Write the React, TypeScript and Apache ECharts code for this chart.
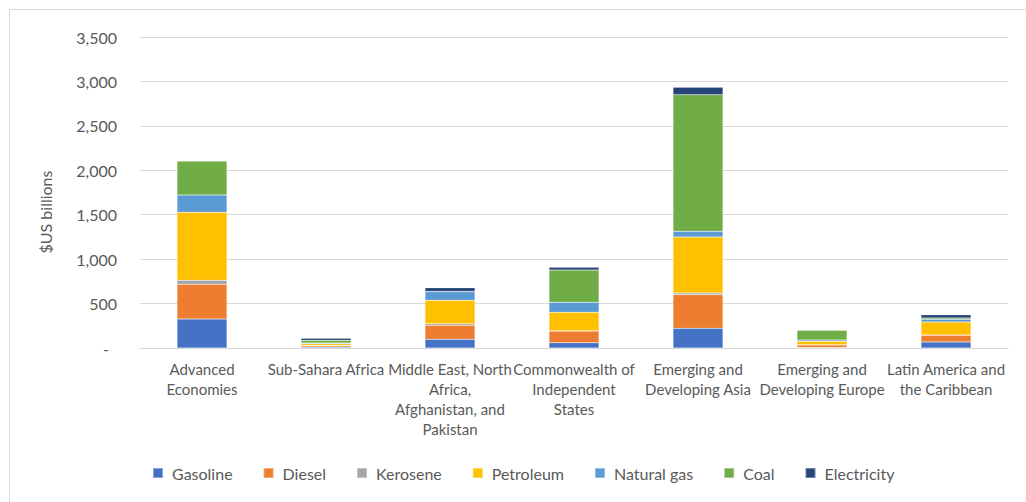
import React, { useEffect, useRef } from "react";
import * as echarts from "echarts";

// Regions on the category axis (line breaks follow the printed wrapping)
const categories = [
  "Advanced\nEconomies",
  "Sub-Sahara Africa",
  "Middle East, North\nAfrica,\nAfghanistan, and\nPakistan",
  "Commonwealth of\nIndependent\nStates",
  "Emerging and\nDeveloping Asia",
  "Emerging and\nDeveloping Europe",
  "Latin America and\nthe Caribbean",
];

// Subsidies by energy product, $US billions
const gasoline = [326, 10, 98, 58, 221, 5, 68];
const diesel = [391, 15, 157, 132, 379, 30, 76];
const kerosene = [45, 3, 19, 5, 19, 2, 3];
const petroleum = [765, 20, 263, 207, 630, 38, 147];
const naturalGas = [195, 7, 97, 112, 64, 15, 30];
const coal = [382, 32, 3, 364, 1538, 109, 15];
const electricity = [3, 22, 41, 30, 83, 3, 34];

const seriesNames = ["Gasoline", "Diesel", "Kerosene", "Petroleum", "Natural gas", "Coal", "Electricity"];
const seriesValues = [gasoline, diesel, kerosene, petroleum, naturalGas, coal, electricity];
const seriesColors = ["#4472C4", "#ED7D31", "#A5A5A5", "#FFC000", "#5B9BD5", "#70AD47", "#264478"];

const yTicks = { min: 0, max: 3500, interval: 500 };
const yTitle = "$US billions";

const FONT = "Lato, 'Noto Sans', sans-serif";
const TEXT = "#595959";
const GRID = "#d9d9d9";

export default function App() {
  const ref = useRef<HTMLDivElement>(null);

  useEffect(() => {
    if (!ref.current) return;
    const chart = echarts.init(ref.current, undefined, { renderer: "svg" });
    chart.setOption({
      animation: false,
      backgroundColor: "#ffffff",
      textStyle: { fontFamily: FONT },
      grid: { left: 140, right: 18, top: 37, bottom: 154, containLabel: false },
      legend: {
        data: seriesNames,
        top: 460,
        left: 147,
        icon: "rect",
        itemWidth: 10,
        itemHeight: 10,
        itemGap: 30,
        textStyle: { fontFamily: FONT, fontSize: 16, color: TEXT, padding: [0, 0, 0, 4] },
      },
      xAxis: {
        type: "category",
        data: categories,
        axisLine: { lineStyle: { color: GRID, width: 1 } },
        axisTick: { show: false },
        axisLabel: {
          interval: 0,
          margin: 11,
          fontFamily: FONT,
          fontSize: 15,
          lineHeight: 20,
          color: TEXT,
          align: "center",
        },
      },
      yAxis: {
        type: "value",
        min: yTicks.min,
        max: yTicks.max,
        interval: yTicks.interval,
        axisLine: { show: false },
        axisTick: { show: false },
        splitLine: { lineStyle: { color: GRID, width: 1 } },
        axisLabel: {
          margin: 23,
          fontFamily: FONT,
          fontSize: 16,
          color: TEXT,
          formatter: (v: number) => (v === 0 ? "{dash|-}" : v.toLocaleString("en-US")),
          rich: { dash: { fontFamily: FONT, fontSize: 16, color: TEXT, padding: [0, 8, 0, 0] } },
        },
      },
      graphic: [
        {
          type: "rect",
          left: 7,
          top: 7,
          shape: { x: 0, y: 0, width: 1040, height: 520 },
          style: { fill: "none", stroke: GRID, lineWidth: 1 },
          silent: true,
        },
        {
          type: "text",
          x: 45,
          y: 212,
          rotation: Math.PI / 2,
          style: {
            text: yTitle,
            fontFamily: FONT,
            fontSize: 16,
            fill: TEXT,
            align: "center",
            verticalAlign: "middle",
          },
        },
      ],
      series: seriesNames.map((name, i) => ({
        name,
        type: "bar",
        stack: "total",
        barWidth: 50,
        data: seriesValues[i],
        itemStyle: { color: seriesColors[i], borderColor: "rgba(255,255,255,0.35)", borderWidth: 0.5 },
      })),
    });
    return () => chart.dispose();
  }, []);

  return (
    <div
      ref={ref}
      style={{ position: "fixed", left: 0, top: 0, width: 1026, height: 502 }}
    />
  );
}
